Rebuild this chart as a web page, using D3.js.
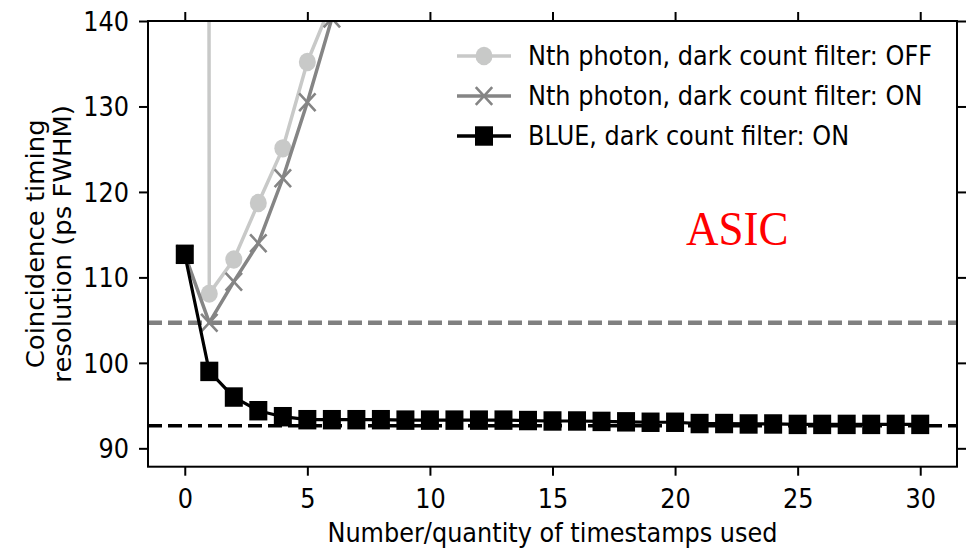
<!DOCTYPE html>
<html>
<head>
<meta charset="utf-8">
<script src="https://cdn.jsdelivr.net/npm/d3@7/dist/d3.min.js"></script>
<style>
  html, body { margin: 0; padding: 0; background: #fff; }
  svg { display: block; }
  text { font-family: "DejaVu Sans", sans-serif; }
  text.annot { font-family: "Liberation Serif", "Times New Roman", serif; }
</style>
</head>
<body>
<svg id="chart" width="968" height="548"></svg>
<script>
// Number of timestamps used (x) and coincidence timing resolution in ps FWHM (y)
const nthOffX = [0, 1, 2, 3, 4, 5, 6];
const nthOffY = [3000, 108.1, 112.1, 118.7, 125.1, 135.2, 142.2];

const nthOnX = [0, 1, 2, 3, 4, 5, 6];
const nthOnY = [112.7, 104.7, 109.5, 114.0, 121.6, 130.5, 140.3];

const blueX = [0, 1, 2, 3, 4, 5, 6, 7, 8, 9, 10, 11, 12, 13, 14, 15,
               16, 17, 18, 19, 20, 21, 22, 23, 24, 25, 26, 27, 28, 29, 30];
const blueY = [112.7, 99.0, 96.0, 94.4, 93.7, 93.35, 93.35, 93.35, 93.35, 93.3, 93.3,
               93.3, 93.3, 93.3, 93.25, 93.2, 93.2, 93.15, 93.1, 93.05, 93.05,
               92.9, 92.9, 92.85, 92.85, 92.8, 92.8, 92.8, 92.8, 92.8, 92.8];

// Reference levels (dashed horizontal lines)
const refNthOn = 104.7;
const refBlue = 92.65;

const xTicks = [0, 5, 10, 15, 20, 25, 30];
const yTicks = [90, 100, 110, 120, 130, 140];

const legendLabels = [
  "Nth photon, dark count filter: OFF",
  "Nth photon, dark count filter: ON",
  "BLUE, dark count filter: ON"
];

const xLabel = "Number/quantity of timestamps used";
const yLabelLines = ["Coincidence timing", "resolution (ps FWHM)"];
const annotation = "ASIC";

// ---- layout ----
const STRETCH = 1.08;           // glyphs are drawn slightly taller than wide
const plotLeft = 148, plotRight = 957, plotTop = 21, plotBottom = 466.7;
const colLight = "#c8c9c8", colMid = "#858585", colDark = "#000000";

const svg = d3.select("#chart");

const x = d3.scaleLinear().domain([-1.5, 31.5]).range([plotLeft, plotRight]);
const y = d3.scaleLinear().domain([87.85, 140]).range([plotBottom, plotTop]);

svg.append("defs").append("clipPath").attr("id", "plot-clip")
  .append("rect").attr("x", plotLeft).attr("y", plotTop)
  .attr("width", plotRight - plotLeft).attr("height", plotBottom - plotTop);

const plot = svg.append("g").attr("clip-path", "url(#plot-clip)");

// dashed reference lines
function hline(v, color, width) {
  plot.append("line")
    .attr("x1", plotLeft).attr("x2", plotRight)
    .attr("y1", y(v)).attr("y2", y(v))
    .attr("stroke", color).attr("stroke-width", width)
    .attr("stroke-dasharray", "14,6");
}
hline(refNthOn, "#808080", 4.5);
hline(refBlue, colDark, 3.5);

// marker shapes
function drawCircle(g, cx, cy, color) {
  g.append("ellipse").attr("cx", cx).attr("cy", cy)
    .attr("rx", 8.5).attr("ry", 8.5 * STRETCH).attr("fill", color);
}
function drawCross(g, cx, cy, color) {
  const hx = 8.2, hy = 8.2 * STRETCH;
  g.append("path")
    .attr("d", `M${cx - hx},${cy - hy}L${cx + hx},${cy + hy}M${cx - hx},${cy + hy}L${cx + hx},${cy - hy}`)
    .attr("stroke", color).attr("stroke-width", 2.6).attr("fill", "none");
}
function drawSquare(g, cx, cy, color) {
  const w = 18, h = 18 * STRETCH;
  g.append("rect").attr("x", cx - w / 2).attr("y", cy - h / 2)
    .attr("width", w).attr("height", h).attr("fill", color);
}

function series(xs, ys, color, lw, marker) {
  const pts = xs.map((d, i) => [x(d), y(ys[i])]);
  plot.append("path")
    .attr("d", d3.line()(pts))
    .attr("fill", "none").attr("stroke", color)
    .attr("stroke-width", lw).attr("stroke-linejoin", "round");
  const mg = plot.append("g");
  pts.forEach(p => marker(mg, p[0], p[1], color));
}

series(nthOffX, nthOffY, colLight, 3.5, drawCircle);
series(nthOnX, nthOnY, colMid, 3.5, drawCross);
series(blueX, blueY, colDark, 3.2, drawSquare);

// ---- axes ----
const fontSize = 24;
const gx = svg.append("g").attr("transform", `translate(0,${plotBottom})`)
  .call(d3.axisBottom(x).tickValues(xTicks).tickSize(9).tickPadding(0));
const gy = svg.append("g").attr("transform", `translate(${plotLeft},0)`)
  .call(d3.axisLeft(y).tickValues(yTicks).tickSize(9).tickPadding(0));
const gt = svg.append("g").attr("transform", `translate(0,${plotTop})`)
  .call(d3.axisTop(x).tickValues(xTicks).tickSize(9).tickFormat(""));
const gr = svg.append("g").attr("transform", `translate(${plotRight},0)`)
  .call(d3.axisRight(y).tickValues(yTicks).tickSize(9).tickFormat(""));

[gx, gy, gt, gr].forEach(g => {
  g.select(".domain").remove();
  g.selectAll(".tick line").attr("stroke", "#000").attr("stroke-width", 2);
});

gx.selectAll(".tick text")
  .attr("x", null).attr("y", null).attr("dy", null)
  .attr("transform", `translate(0,41.6) scale(1,${STRETCH})`)
  .attr("font-size", fontSize).attr("font-family", "DejaVu Sans")
  .attr("fill", "#000").attr("text-anchor", "middle");

gy.selectAll(".tick text")
  .attr("x", null).attr("y", null).attr("dy", null)
  .attr("transform", `translate(-19,9.4) scale(1,${STRETCH})`)
  .attr("font-size", fontSize).attr("font-family", "DejaVu Sans")
  .attr("fill", "#000").attr("text-anchor", "end");

// frame
svg.append("rect").attr("x", plotLeft).attr("y", plotTop)
  .attr("width", plotRight - plotLeft).attr("height", plotBottom - plotTop)
  .attr("fill", "none").attr("stroke", "#000").attr("stroke-width", 2);

// axis titles
svg.append("text")
  .attr("transform", `translate(${(plotLeft + plotRight) / 2},541.7) scale(1,${STRETCH})`)
  .attr("text-anchor", "middle").attr("font-size", fontSize).attr("fill", "#000")
  .text(xLabel);

const yMid = (plotTop + plotBottom) / 2;
[44, 71].forEach((bx, i) => {
  svg.append("text")
    .attr("transform", `translate(${bx},${yMid}) scale(1,${STRETCH}) rotate(-90)`)
    .attr("text-anchor", "middle").attr("font-size", fontSize).attr("fill", "#000")
    .text(yLabelLines[i]);
});

// legend
const legendRows = [56, 96, 136];
const legendStyles = [
  { color: colLight, marker: drawCircle },
  { color: colMid, marker: drawCross },
  { color: colDark, marker: drawSquare }
];
const lg = svg.append("g");
legendLabels.forEach((label, i) => {
  const cy = legendRows[i];
  lg.append("line").attr("x1", 457).attr("x2", 511).attr("y1", cy).attr("y2", cy)
    .attr("stroke", legendStyles[i].color).attr("stroke-width", 3.5);
  legendStyles[i].marker(lg, 484, cy, legendStyles[i].color);
  lg.append("text")
    .attr("transform", `translate(528,${cy + 9.4}) scale(1,${STRETCH})`)
    .attr("font-size", fontSize).attr("fill", "#000")
    .text(label);
});

// annotation
svg.append("text")
  .attr("class", "annot")
  .attr("transform", `translate(686,245) scale(1,${STRETCH})`)
  .attr("font-size", 45).attr("fill", "#ff0000")
  .text(annotation);
</script>
</body>
</html>
